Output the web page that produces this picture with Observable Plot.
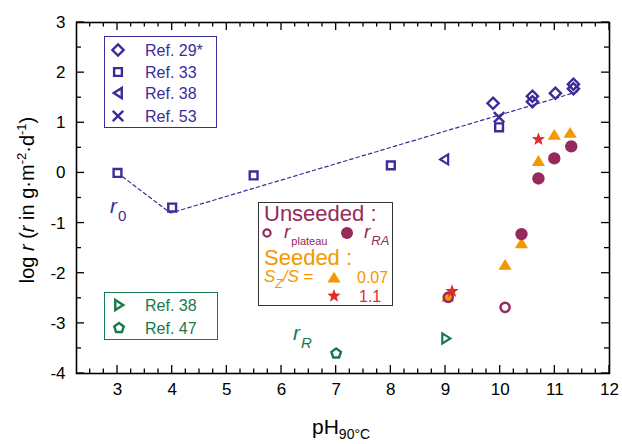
<!DOCTYPE html>
<html><head><meta charset="utf-8">
<script src="https://cdn.jsdelivr.net/npm/d3@7"></script>
<script src="https://cdn.jsdelivr.net/npm/@observablehq/plot@0.6"></script>
<style>body{margin:0;background:#fff} #chart{width:622px;height:444px}</style>
</head><body><div id="chart"></div>
<script>
const BLUE="#3a2d9a", MAROON="#962a5c", ORANGE="#f39800", RED="#e42b2b", GREEN="#167a4c";

// ---- data ----
const ref29_pH  = [9.87, 10.59, 10.59, 11.01, 11.34, 11.34];
const ref29_log = [1.39, 1.53, 1.42, 1.59, 1.77, 1.68];
const ref33_pH  = [3.0, 4.0, 5.49, 8.0, 9.98];
const ref33_log = [0.0, -0.69, -0.05, 0.15, 0.91];
const ref38_pH  = [8.98];
const ref38_log = [0.27];
const ref53_pH  = [9.98];
const ref53_log = [1.11];
const r0line_pH  = [3.0, 3.97, 11.45];
const r0line_log = [0.0, -0.80, 1.63];
const rR38_pH  = [9.01];
const rR38_log = [-3.3];
const rR47_pH  = [7.0];
const rR47_log = [-3.6];
const plateau_pH  = [9.05, 10.09];
const plateau_log = [-2.48, -2.68];
const ra_pH  = [10.39, 10.70, 10.99, 11.30];
const ra_log = [-1.22, -0.11, 0.29, 0.53];
const seed007_pH  = [9.04, 10.09, 10.39, 10.70, 10.99, 11.28];
const seed007_log = [-2.48, -1.84, -1.41, 0.23, 0.75, 0.79];
const seed11_pH  = [9.12, 10.70];
const seed11_log = [-2.36, 0.67];
const xTicks = [3,4,5,6,7,8,9,10,11,12];
const yTicks = [-4,-3,-2,-1,0,1,2,3];
const xMinor = d3.range(2.5, 12, 0.25).filter(v => !Number.isInteger(v));
const yMinor = d3.range(-3.5, 3, 1);

const pts = (xs, ys) => xs.map((x, i) => ({x, y: ys[i]}));

// ---- symbols ----
const rad = s => Math.sqrt(s / Math.PI);
const symDiamond = {draw(c,s){const r=rad(s);c.moveTo(0,-r);c.lineTo(r,0);c.lineTo(0,r);c.lineTo(-r,0);c.closePath();}};
const symSquare = {draw(c,s){const r=rad(s);c.moveTo(-r,-r);c.lineTo(r,-r);c.lineTo(r,r);c.lineTo(-r,r);c.closePath();}};
const symTriLeft = {draw(c,s){const r=rad(s);c.moveTo(-r*0.85,0);c.lineTo(r*0.75,-r);c.lineTo(r*0.75,r);c.closePath();}};
const symTriRight = {draw(c,s){const r=rad(s);c.moveTo(r*0.85,0);c.lineTo(-r*0.75,-r);c.lineTo(-r*0.75,r);c.closePath();}};
const symTimes = {draw(c,s){const r=rad(s);c.moveTo(-r,-r);c.lineTo(r,r);c.moveTo(-r,r);c.lineTo(r,-r);}};
const symPentagon = {draw(c,s){const r=rad(s);for(let i=0;i<5;i++){const a=-Math.PI/2+i*2*Math.PI/5;const px=r*Math.cos(a),py=r*Math.sin(a);i?c.lineTo(px,py):c.moveTo(px,py);}c.closePath();}};
const symTriUp = {draw(c,s){const r=rad(s);c.moveTo(0,-r*1.05);c.lineTo(r*1.1,r*0.75);c.lineTo(-r*1.1,r*0.75);c.closePath();}};
const symStar = {draw(c,s){const R=rad(s),ri=R*0.42;for(let i=0;i<10;i++){const a=-Math.PI/2+i*Math.PI/5;const rr=i%2?ri:R;const px=rr*Math.cos(a),py=rr*Math.sin(a);i?c.lineTo(px,py):c.moveTo(px,py);}c.closePath();}};
const symCircle = {draw(c,s){const r=rad(s);c.moveTo(r,0);c.arc(0,0,r,0,2*Math.PI);}};

const plot = Plot.plot({
  width: 622, height: 444,
  marginLeft: 76, marginRight: 13, marginTop: 22, marginBottom: 71,
  x: {domain: [2.25, 12]},
  y: {domain: [-4, 3]},
  style: {fontFamily: "Liberation Sans, Arial, sans-serif", fontSize: "17px", color: "black", background: "white"},
  marks: [
    Plot.axisX({ticks: xTicks, tickSize: 0, tickPadding: 9, label: null, fontSize: 17}),
    Plot.axisY({ticks: yTicks, tickSize: 0, tickPadding: 11, label: null, fontSize: 17, tickFormat: d => String(d).replace("−","-")}),
    Plot.frame({stroke: "black", strokeWidth: 1.6}),
    Plot.line(pts(r0line_pH, r0line_log), {x: "x", y: "y", stroke: BLUE, strokeWidth: 1.2, strokeDasharray: "3.5,3"}),
    Plot.dot(pts(ref33_pH, ref33_log), {x: "x", y: "y", symbol: symSquare, r: 3.9, stroke: BLUE, strokeWidth: 2.4, fill: "white"}),
    Plot.dot(pts(ref29_pH, ref29_log), {x: "x", y: "y", symbol: symDiamond, r: 5.6, stroke: BLUE, strokeWidth: 2.4, fill: "none"}),
    Plot.dot(pts(ref38_pH, ref38_log), {x: "x", y: "y", symbol: symTriLeft, r: 5, stroke: BLUE, strokeWidth: 2.2, fill: "none"}),
    Plot.dot(pts(ref53_pH, ref53_log), {x: "x", y: "y", symbol: symTimes, r: 5.2, stroke: BLUE, strokeWidth: 2.5, fill: "none"}),
    Plot.dot(pts(rR38_pH, rR38_log), {x: "x", y: "y", symbol: symTriRight, r: 5, stroke: GREEN, strokeWidth: 2.2, fill: "none"}),
    Plot.dot(pts(rR47_pH, rR47_log), {x: "x", y: "y", symbol: symPentagon, r: 5, stroke: GREEN, strokeWidth: 2.4, fill: "none"}),
    Plot.dot(pts(seed007_pH, seed007_log), {x: "x", y: "y", symbol: symTriUp, r: 6, fill: ORANGE, stroke: "none"}),
    Plot.dot(pts(plateau_pH, plateau_log), {x: "x", y: "y", symbol: symCircle, r: 4.6, stroke: MAROON, strokeWidth: 2.5, fill: "none"}),
    Plot.dot(pts(ra_pH, ra_log), {x: "x", y: "y", symbol: symCircle, r: 6.2, fill: MAROON, stroke: "none"}),
    Plot.dot(pts(seed11_pH, seed11_log), {x: "x", y: "y", symbol: symStar, r: 7, fill: RED, stroke: "none"})
  ]
});
document.getElementById("chart").appendChild(plot);

// ---- overlays: inside ticks (from Plot's scales), titles, annotations, legends ----
const sx = plot.scale("x"), sy = plot.scale("y");
const X = v => sx.apply(v), Y = v => sy.apply(v);
const x0 = X(2.25), x1 = X(12), y0 = Y(-4), y1 = Y(3);
const svg = d3.select(plot);
const tg = svg.append("g").attr("stroke", "black").attr("stroke-width", 1.3);
const tick = (xa, ya, xb, yb) => tg.append("line").attr("x1", xa).attr("y1", ya).attr("x2", xb).attr("y2", yb);
for (const v of xTicks) { tick(X(v), y0, X(v), y0 - 8); tick(X(v), y1, X(v), y1 + 8); }
for (const v of xMinor) { tick(X(v), y0, X(v), y0 - 4.5); tick(X(v), y1, X(v), y1 + 4.5); }
for (const v of yTicks) { tick(x0, Y(v), x0 + 8, Y(v)); tick(x1, Y(v), x1 - 8, Y(v)); }
for (const v of yMinor) { tick(x0, Y(v), x0 + 5, Y(v)); tick(x1, Y(v), x1 - 5, Y(v)); }

const g = svg.append("g").attr("font-family", "Liberation Sans, Arial, sans-serif").attr("text-anchor", "start");
const symPath = (sym, r) => { const p = d3.path(); sym.draw(p, Math.PI * r * r); return p.toString(); };
const sym = (sym, r, x, y, style) => {
  const e = g.append("path").attr("d", symPath(sym, r)).attr("transform", `translate(${x},${y})`);
  for (const k in style) e.attr(k, style[k]);
};
const txt = (x, y, parts, attrs = {}) => {
  const t = g.append("text").attr("x", x).attr("y", y);
  for (const k in attrs) t.attr(k, attrs[k]);
  for (const p of parts) {
    const s = t.append("tspan").text(p.t);
    for (const k in p) if (k !== "t") s.attr(k, p[k]);
  }
  return t;
};

// y title
txt(0, 0, [
  {t: "log "}, {t: "r", "font-style": "italic"}, {t: " ("}, {t: "r", "font-style": "italic"},
  {t: " in g·m"}, {t: "-2", "font-size": 13, dy: -8}, {t: "·d", "font-size": 20, dy: 8},
  {t: "-1", "font-size": 13, dy: -8}, {t: ")", "font-size": 20, dy: 8}
], {transform: "translate(34,200) rotate(-90)", "text-anchor": "middle", "font-size": 20, fill: "black"});

// x title
txt(312, 434, [{t: "pH"}, {t: "90°C", "font-size": 14, dy: 5}], {"font-size": 21, fill: "black"});

// curve labels
txt(110, 213, [{t: "r", "font-style": "italic"}, {t: "0", "font-size": 15, dy: 8, dx: 1}], {"font-size": 21, fill: BLUE});
txt(293, 340, [{t: "r", "font-style": "italic"}, {t: "R", "font-size": 15, dy: 8, dx: 1, "font-style": "italic"}], {"font-size": 21, fill: GREEN});

// legend 1 (blue)
g.append("rect").attr("x", 104.5).attr("y", 36.5).attr("width", 112).attr("height", 91).attr("fill", "white").attr("stroke", BLUE).attr("stroke-width", 1);
const L1 = [[symDiamond, 5.6, "Ref. 29*", 50], [symSquare, 3.9, "Ref. 33", 72], [symTriLeft, 5, "Ref. 38", 93], [symTimes, 5.2, "Ref. 53", 116]];
for (const [s, r, label, y] of L1) {
  sym(s, r, 118, y, {fill: "none", stroke: BLUE, "stroke-width": 2.4});
  txt(145, y + 5.5, [{t: label}], {"font-size": 16, fill: BLUE});
}
// legend 2 (green)
g.append("rect").attr("x", 104.5).attr("y", 292.5).attr("width", 113).attr("height", 47).attr("fill", "white").attr("stroke", GREEN).attr("stroke-width", 1);
const L2 = [[symTriRight, 5, "Ref. 38", 305], [symPentagon, 5, "Ref. 47", 328]];
for (const [s, r, label, y] of L2) {
  sym(s, r, 119, y, {fill: "none", stroke: GREEN, "stroke-width": 2.4});
  txt(145, y + 5.5, [{t: label}], {"font-size": 16, fill: GREEN});
}
// legend 3 (black)
g.append("rect").attr("x", 258.5).attr("y", 202.5).attr("width", 134).attr("height", 103).attr("fill", "white").attr("stroke", "#333").attr("stroke-width", 1);
txt(264, 221, [{t: "Unseeded :"}], {"font-size": 22, fill: MAROON});
sym(symCircle, 3.6, 267, 233, {fill: "none", stroke: MAROON, "stroke-width": 2.2});
txt(284, 238, [{t: "r", "font-style": "italic"}, {t: "plateau", "font-size": 11, dy: 7, dx: 1}], {"font-size": 19, fill: MAROON});
sym(symCircle, 6, 347, 233, {fill: MAROON});
txt(364, 238, [{t: "r", "font-style": "italic"}, {t: "RA", "font-size": 13, dy: 7, dx: 1, "font-style": "italic"}], {"font-size": 19, fill: MAROON});
txt(264, 265, [{t: "Seeded :"}], {"font-size": 22, fill: ORANGE});
txt(264, 282, [{t: "S", "font-style": "italic"}, {t: "Z", "font-size": 12, dy: 6, "font-style": "italic"}, {t: "/", dy: -6, "font-style": "italic"}, {t: "S", "font-style": "italic"}, {t: " ="}], {"font-size": 17, fill: ORANGE});
sym(symTriUp, 6, 334, 278, {fill: ORANGE});
txt(357, 283, [{t: "0.07"}], {"font-size": 16, fill: ORANGE});
sym(symStar, 7, 334, 296, {fill: RED});
txt(359, 302, [{t: "1.1"}], {"font-size": 16, fill: RED});
</script>
</body></html>
